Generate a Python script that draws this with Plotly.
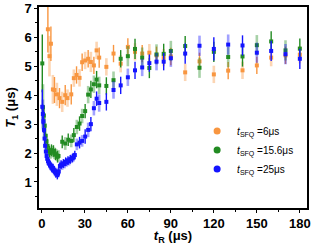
import plotly.graph_objects as go

# t_SFQ = 6 us (orange)
x_6 = [4.2, 5.3, 6.3, 7.7, 8.8, 10.5, 12.3, 14.2, 16.3, 17.9, 20.5, 22.3, 24.2, 26.3, 28.1, 30.2,
       32.3, 34.2, 36.3, 38.2, 40, 45, 50, 55, 60, 65, 70, 75, 80, 85, 90, 100, 110, 120, 130, 140,
       150, 160, 170, 180]
y_6 = [6.28, 5.35, 5.78, 4.2, 4.18, 4.03, 3.9, 3.77, 4.0, 3.9, 4.03, 4.59, 4.7, 4.6, 5.14, 5.2,
       5.26, 5.15, 5.03, 5.55, 5.3, 4.98, 5.44, 5.09, 5.67, 5.5, 5.44, 5.47, 5.38, 5.3, 5.34, 4.79,
       5.17, 4.72, 4.85, 4.86, 5.03, 5.3, 5.38, 5.4]
e_6 = [0.8, 0.7, 0.6, 0.5, 0.45, 0.4, 0.35, 0.35, 0.35, 0.3, 0.35, 0.3, 0.3, 0.3, 0.3, 0.3,
       0.3, 0.35, 0.3, 0.3, 0.35, 0.3, 0.3, 0.3, 0.3, 0.3, 0.3, 0.3, 0.3, 0.3, 0.3, 0.3,
       0.3, 0.3, 0.3, 0.3, 0.3, 0.3, 0.3, 0.3]

# t_SFQ = 15.6 us (green)
x_156 = [0.3, 0.8, 1.4, 2.0, 2.6, 3.2, 3.9, 4.6, 5.3, 6.0, 6.7, 7.4, 8.1, 8.8, 9.5, 10.2, 10.9, 11.6,
         14.2, 16.3, 18.4, 20.5, 22.3, 24.4, 26.3, 28.1, 30.2, 32.3, 34.2, 36.3, 38.2, 40, 45, 50,
         55, 60, 65, 70, 75, 80, 85, 90, 100, 110, 120, 130, 140, 150, 160, 170, 180]
y_156 = [5.1, 3.58, 3.3, 2.95, 2.6, 2.4, 2.25, 2.1, 2.05, 2.0, 2.1, 2.05, 2.07, 1.99, 1.96, 1.93, 1.87, 1.9,
         2.39, 2.33, 2.46, 2.42, 2.62, 2.9, 3.02, 3.28, 3.45, 4.02, 4.2, 4.38, 4.54, 4.34, 4.32, 4.52,
         5.26, 5.35, 5.6, 5.3, 4.94, 5.41, 5.43, 5.53, 5.7, 4.95, 5.5, 5.32, 5.34, 5.73, 5.86, 5.55, 5.61]
e_156 = [1.0, 0.8, 0.35, 0.3, 0.3, 0.25, 0.25, 0.2, 0.2, 0.2, 0.2, 0.2, 0.2, 0.2, 0.2, 0.2, 0.2, 0.2,
         0.22, 0.22, 0.22, 0.22, 0.25, 0.25, 0.25, 0.25, 0.25, 0.3, 0.3, 0.3, 0.3, 0.3, 0.3, 0.3,
         0.3, 0.35, 0.35, 0.35, 0.35, 0.35, 0.35, 0.35, 0.35, 0.35, 0.35, 0.35, 0.35, 0.35, 0.35, 0.35, 0.35]

# t_SFQ = 25 us (blue)
x_25 = [0.3, 0.7, 1.1, 1.5, 1.9, 2.3, 2.8, 3.3, 3.8, 4.3, 4.8, 5.3, 5.8, 6.3, 6.8, 7.3, 7.8, 8.3, 8.8,
        9.3, 9.8, 10.3, 10.8, 11.3, 11.8,
        12.6, 13.4, 14.2, 15.0, 15.8, 16.6, 17.4, 18.2, 19.0, 19.8, 20.6, 21.4, 22.2, 23.0,
        24.4, 26.3, 28.1, 30.2, 32.3, 34.2, 36.3, 38.2, 40, 45, 50, 55, 60, 65, 70, 75, 80, 85, 90,
        100, 110, 120, 130, 140, 150, 160, 170, 180]
y_25 = [3.6, 3.35, 3.1, 2.8, 2.5, 2.25, 2.05, 1.9, 1.8, 1.72, 1.66, 1.62, 1.58, 1.55, 1.5, 1.46, 1.48,
        1.42, 1.38, 1.34, 1.3, 1.34, 1.24, 1.3, 1.36,
        1.55, 1.6, 1.57, 1.64, 1.62, 1.7, 1.68, 1.74, 1.72, 1.78, 1.8, 1.83, 1.86, 1.93,
        2.3, 2.36, 2.42, 2.57, 2.8, 3.0, 3.55, 3.88, 3.73, 3.77, 4.18, 4.34, 4.62, 4.86, 4.96, 5.11,
        5.16, 5.16, 5.28, 5.44, 5.71, 5.6, 5.75, 5.72, 5.47, 5.53, 5.42, 5.26]
e_25 = [0.6, 0.5, 0.4, 0.3, 0.25, 0.2, 0.15, 0.15, 0.15, 0.15, 0.15, 0.15, 0.15, 0.15, 0.15, 0.15,
        0.15, 0.15, 0.15, 0.15, 0.15, 0.15, 0.15, 0.15, 0.15,
        0.15, 0.15, 0.15, 0.15, 0.15, 0.15, 0.15, 0.15, 0.15, 0.15, 0.15, 0.15, 0.15, 0.15,
        0.2, 0.2, 0.2, 0.25, 0.25, 0.25, 0.25, 0.25, 0.3, 0.3, 0.3, 0.3, 0.3, 0.3, 0.3, 0.3,
        0.3, 0.3, 0.3, 0.35, 0.35, 0.4, 0.35, 0.35, 0.35, 0.35, 0.35, 0.35]

series = [
    ("<i>t</i><sub>SFQ</sub> =6μs", x_6, y_6, e_6, (248, 150, 64)),
    ("<i>t</i><sub>SFQ</sub> =15.6μs", x_156, y_156, e_156, (34, 139, 34)),
    ("<i>t</i><sub>SFQ</sub> =25μs", x_25, y_25, e_25, (20, 20, 255)),
]

fig = go.Figure()
for name, xs, ys, es, (r, g, b) in series:
    solid = f"rgb({r},{g},{b})"
    light = f"rgba({r},{g},{b},0.4)"
    for parity, ecol, ew in ((1, light, 2.6), (0, solid, 1.4)):
        fig.add_trace(go.Scatter(
            x=xs[parity::2], y=ys[parity::2], mode="markers",
            marker=dict(symbol="square", size=4, color=solid),
            error_y=dict(type="data", array=es[parity::2], visible=True,
                         color=ecol, thickness=ew, width=0),
            showlegend=False, hoverinfo="skip"))
for name, xs, ys, es, (r, g, b) in series:
    fig.add_trace(go.Scatter(
        x=[None], y=[None], mode="markers", name=name,
        marker=dict(symbol="circle", size=7, color=f"rgb({r},{g},{b})")))

font_b = dict(family="Liberation Sans", size=13, color="black", weight="bold")
axis_common = dict(
    showline=True, linecolor="black", linewidth=1.5, mirror=True,
    ticks="outside", ticklen=3, tickwidth=1.2, tickcolor="black",
    showgrid=False, zeroline=False, tickfont=font_b, automargin=True,
)
fig.update_xaxes(range=[-2, 185], tick0=0, dtick=30,
                 minor=dict(ticks="outside", ticklen=2, tickwidth=1, dtick=15, tick0=0, tickcolor="black"),
                 title=dict(text="<i>t</i><sub>R</sub> (μs)", font=font_b, standoff=0),
                 **axis_common)
fig.update_yaxes(range=[0.1, 7.05], tick0=0, dtick=1,
                 minor=dict(ticks="outside", ticklen=2, tickwidth=1, dtick=0.5, tick0=0, tickcolor="black"),
                 title=dict(text="<i>T</i><sub>1</sub> (μs)", font=font_b, standoff=6),
                 **axis_common)
fig.update_layout(
    width=315, height=245,
    margin=dict(l=39, r=8, t=7, b=37, autoexpand=False),
    paper_bgcolor="white", plot_bgcolor="white",
    legend=dict(x=0.59, y=0.455, xanchor="left", yanchor="top",
                font=dict(family="Liberation Sans", size=10, color="black"),
                bgcolor="rgba(0,0,0,0)", tracegroupgap=0, itemwidth=30),
)
fig.write_html("out.html", config={"displayModeBar": False},
               post_script="document.body.style.margin='0px';")
